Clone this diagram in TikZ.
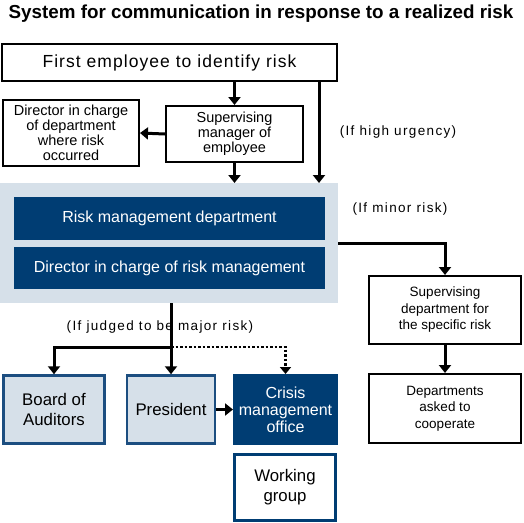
\documentclass[tikz,border=0pt]{standalone}
\usepackage{fontspec}
\setmainfont{Liberation Sans}
\usetikzlibrary{arrows.meta}
\definecolor{dblue}{RGB}{0,61,115}
\definecolor{lblue}{RGB}{214,224,233}
\definecolor{mblue}{RGB}{28,78,128}
\newfontfamily\labfont[LetterSpace=10]{Liberation Sans}
\newfontfamily\firstfont[LetterSpace=6]{Liberation Sans}
\begin{document}
\begin{tikzpicture}[x=1pt,y=-1pt,
  every node/.style={inner sep=0pt, outer sep=0pt, align=center},
  wbox/.style={draw=black, line width=2pt, fill=white, outer sep=1pt},
  small/.style={font=\fontsize{14.5}{15}\selectfont},
  mid/.style={font=\fontsize{13.5}{16.5}\selectfont},
  big/.style={font=\fontsize{16.8}{20}\selectfont},
  darkbox/.style={fill=dblue, text=white, font=\fontsize{16}{17}\selectfont},
  lbox/.style={draw=mblue, line width=2.5pt, fill=lblue, outer sep=1.25pt, big},
  lab/.style={font=\labfont\fontsize{13.5}{14}\selectfont},
  ln/.style={line width=3pt},
  arr/.style={line width=3pt, -{Triangle[length=8pt,width=12pt]}},
  darr/.style={line width=2.5pt, dotted, -{Triangle[length=7pt,width=11pt]}}
]
\useasboundingbox (0,0) rectangle (524,522);
\node (title) at (261,14) {\fontsize{18.8}{20}\selectfont\bfseries System for communication in response to a realized risk};

\node[wbox, minimum width=335pt, minimum height=37pt] (first) at (169.5,62.5) {\firstfont\fontsize{17.5}{18}\selectfont First employee to identify risk};
\node[wbox, minimum width=137pt, minimum height=56pt, small] (sup) at (234.5,134) {Supervising\\manager of\\employee};
\node[wbox, minimum width=136pt, minimum height=66pt, small] (dir) at (71,133) {Director in charge\\of department\\where risk\\occurred};

\node[fill=lblue, minimum width=338pt, minimum height=120pt] (cont) at (169,243) {};
\node[darkbox, minimum width=311pt, minimum height=43pt] (rmd) at (169.5,218.5) {Risk management department};
\node[darkbox, minimum width=311pt, minimum height=42pt] (drm) at (169.5,268) {Director in charge of risk management};

\node[wbox, minimum width=152pt, minimum height=68pt, mid] (sdept) at (445,310) {Supervising\\department for\\the specific risk};
\node[wbox, minimum width=152pt, minimum height=69pt, mid] (dept) at (445,408.5) {Departments\\asked to\\cooperate};

\node[lbox, minimum width=101pt, minimum height=68pt] (board) at (54,409.5) {Board of\\Auditors};
\node[lbox, minimum width=88pt, minimum height=68pt] (pres) at (171,409.5) {President};
\node[darkbox, minimum width=105pt, minimum height=71pt] (crisis) at (285.5,409.5) {Crisis\\management\\office};
\node[draw=dblue, line width=3pt, fill=white, minimum width=101pt, minimum height=66pt, big, outer sep=1.5pt] (wg) at (285,487.5) {Working\\group};

\coordinate (hu) at (319,0);
\coordinate (mj) at (171,347);

\draw[arr] (sup.north |- first.south) -- (sup.north);
\draw[arr] (first.south -| hu) -- (cont.north -| hu);
\draw[arr] (sup.west) -- (dir.east);
\draw[arr] (sup.south) -- (sup.south |- cont.north);
\draw[arr] (cont.east) -| (sdept.north);
\draw[arr] (sdept.south) -- (dept.north);
\draw[ln] (cont.south -| mj) -- (mj);
\draw[arr] (mj) -| (board.north);
\draw[arr] (mj) -- (pres.north);
\draw[darr] (mj) -| (crisis.north);
\draw[arr] (pres.east) -- (crisis.west);

\node[lab] (lhu) at (398,132) {(If high urgency)};
\node[lab] (lmi) at (400,209) {(If minor risk)};
\node[lab] (lmj) at (160,327) {(If judged to be major risk)};
\end{tikzpicture}
\end{document}
